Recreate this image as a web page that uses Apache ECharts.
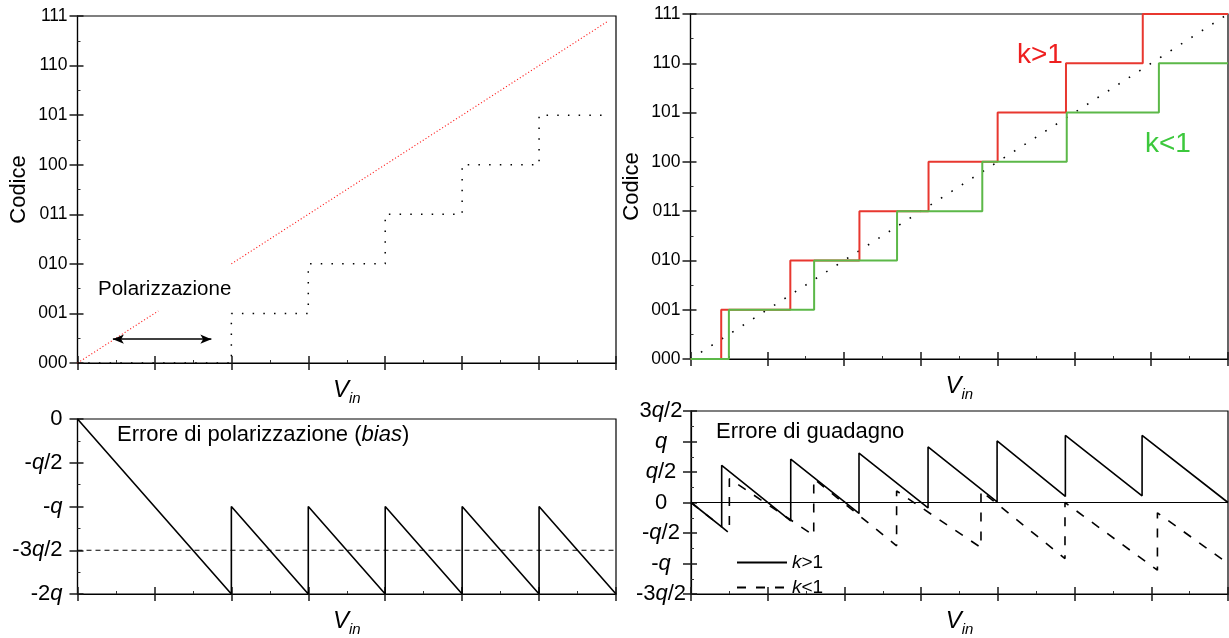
<!DOCTYPE html>
<html><head><meta charset="utf-8">
<script src="https://cdn.jsdelivr.net/npm/echarts@6/dist/echarts.min.js"></script>
<style>html,body{margin:0;padding:0;background:#fff}#c{width:1229px;height:638px}</style>
</head><body><div id="c"></div>
<script>
// ---------------- data ----------------
const codeLabels = ['000','001','010','011','100','101','110','111'];
// top-left: bias (offset) error
const biasIdealX    = [0, 1.05, null, 2, 6.9];
const biasIdealCode = [0, 1.05, null, 2, 6.9];
const biasStepX     = [0, 2, 3, 4, 5, 6, 6.9];
const biasStepCode  = [0, 1, 2, 3, 4, 5, 5];
const biasArrowX    = [0.46, 1.74];
const biasArrowCode = [0.48, 0.48];
// top-right: gain error
const gainIdealX    = [0, 7];
const gainIdealCode = [0, 7];
const kGtStepX = [0, 0.40, 1.30, 2.20, 3.10, 4.00, 4.89, 5.89, 7];
const kGtCode  = [0, 1, 2, 3, 4, 5, 6, 7, 7];
const kLtStepX = [0, 0.50, 1.61, 2.69, 3.80, 4.90, 6.10, 7];
const kLtCode  = [0, 1, 2, 3, 4, 5, 6, 6];
// bottom-left: bias error (units of q)
const biasErrTickVals   = [0, -0.5, -1, -1.5, -2];
const biasErrTickLabels = ['0', '-q/2', '-q', '-3q/2', '-2q'];
const biasErrX = [0, 2, 2, 3, 3, 4, 4, 5, 5, 6, 6, 7];
const biasErrQ = [0, -2, -1, -2, -1, -2, -1, -2, -1, -2, -1, -2];
const biasRefX = [0, 7];
const biasRefQ = [-1.5, -1.5];
// bottom-right: gain error (units of q)
const gainErrTickVals   = [1.5, 1, 0.5, 0, -0.5, -1, -1.5];
const gainErrTickLabels = ['3q/2', 'q', 'q/2', '0', '-q/2', '-q', '-3q/2'];
const zeroX = [0, 7];
const zeroQ = [0, 0];
const kGtErrX = [0, 0.40, 0.40, 1.30, 1.30, 2.19, 2.19, 3.09, 3.09, 3.99, 3.99, 4.88, 4.88, 5.88, 5.88, 7];
const kGtErrQ = [0, -0.40, 0.61, -0.30, 0.71, -0.18, 0.81, -0.09, 0.91, 0.01, 1.01, 0.10, 1.10, 0.11, 1.10, 0];
const kLtErrX = [0, 0.50, 0.50, 1.60, 1.60, 2.68, 2.68, 3.78, 3.78, 4.875, 4.875, 6.08, 6.08, 7];
const kLtErrQ = [0, -0.50, 0.39, -0.54, 0.39, -0.71, 0.19, -0.74, 0.19, -0.92, 0.00, -1.11, -0.17, -1.00];

// ---------------- helpers ----------------
const FF = '"Liberation Sans", Arial, sans-serif';
function pairs(xs, ys) { return xs.map((x, i) => (x === null || ys[i] === null) ? ['-', '-'] : [x, ys[i]]); }
function qRich(s) { return s.replace(/q/g, '{i|q}'); }
function lookup(vals, labels, v) {
  const i = vals.findIndex(a => Math.abs(a - v) < 1e-6);
  return i < 0 ? '' : labels[i];
}
const tickLine = { color: '#1a1a1a', width: 1.5 };
const vinName = '{v|V}{s|in}';
const vinRich = {
  v: { fontSize: 24, fontStyle: 'italic', fontFamily: FF, color: '#000', lineHeight: 26, verticalAlign: 'top' },
  s: { fontSize: 15, fontStyle: 'italic', fontFamily: FF, color: '#000', lineHeight: 15, padding: [13, 0, 0, 0], verticalAlign: 'top' }
};

function xAxes(g) {
  const base = { type: 'value', gridIndex: g, min: 0, max: 7, interval: 1, position: 'bottom',
    splitLine: { show: false }, axisLabel: { show: false } };
  return [
    Object.assign({}, base, {
      axisLine: { onZero: false, lineStyle: { color: '#000', width: 1.2 } },
      axisTick: { inside: false, length: 7, lineStyle: tickLine },
      name: vinName, nameLocation: 'middle', nameGap: 15,
      nameTextStyle: { rich: vinRich }
    }),
    Object.assign({}, base, {
      axisLine: { onZero: false, show: false },
      axisTick: { inside: true, length: 7, lineStyle: tickLine },
      minorTick: { show: true, splitNumber: 2, length: 3, lineStyle: { color: '#333', width: 1 } }
    })
  ];
}
function yAxes(g, min, max, step, fmt, fontSize, name, labelOpts) {
  const base = { type: 'value', gridIndex: g, min: min, max: max, interval: step, position: 'left',
    splitLine: { show: false } };
  return [
    Object.assign({}, base, {
      axisLine: { onZero: false, lineStyle: { color: '#000', width: 1.2 } },
      axisTick: { inside: false, length: 8, lineStyle: tickLine },
      axisLabel: Object.assign({ formatter: fmt, fontSize: fontSize, fontFamily: FF, color: '#000', margin: 10,
        rich: { i: { fontStyle: 'italic', fontSize: fontSize, fontFamily: FF, color: '#000' } } }, labelOpts || {}),
      name: name || '', nameLocation: 'middle', nameRotate: 90, nameGap: 48,
      nameTextStyle: { fontSize: 22, fontFamily: FF, color: '#000' }
    }),
    Object.assign({}, base, {
      axisLine: { onZero: false, show: false },
      axisTick: { inside: true, length: 6, lineStyle: tickLine },
      axisLabel: { show: false },
      minorTick: { show: true, splitNumber: 2, length: 3, lineStyle: { color: '#333', width: 1 } }
    })
  ];
}
const codeFmt = v => codeLabels[Math.round(v)] || '';
const biasErrFmt = v => qRich(lookup(biasErrTickVals, biasErrTickLabels, v));
const gainErrFmt = v => qRich(lookup(gainErrTickVals, gainErrTickLabels, v));

const gridBase = { show: true, borderColor: '#000', borderWidth: 1.2, backgroundColor: 'transparent', containLabel: false };

const option = {
  animation: false,
  backgroundColor: '#fff',
  grid: [
    Object.assign({ left: 77.5, top: 16, width: 538.5, height: 347 }, gridBase),
    Object.assign({ left: 690.5, top: 14, width: 537.5, height: 345 }, gridBase),
    Object.assign({ left: 77.5, top: 419, width: 538.5, height: 175 }, gridBase),
    Object.assign({ left: 691, top: 411, width: 537, height: 192 }, gridBase)
  ],
  xAxis: [].concat(xAxes(0), xAxes(1), xAxes(2), xAxes(3)),
  yAxis: [].concat(
    yAxes(0, 0, 7, 1, codeFmt, 17.5, 'Codice'),
    yAxes(1, 0, 7, 1, codeFmt, 17.5, 'Codice'),
    yAxes(2, -2, 0, 0.5, biasErrFmt, 22, '', { margin: 15 }),
    yAxes(3, -1.5, 1.5, 0.5, gainErrFmt, 22, '', { align: 'center', margin: 30 })
  ),
  legend: {
    data: ['k>1', 'k<1'], orient: 'vertical', left: 731, top: 548,
    itemWidth: 50, itemHeight: 14, itemGap: 6,
    itemStyle: { opacity: 0 },
    formatter: n => n.replace('k', '{i|k}'),
    textStyle: { fontSize: 19, fontFamily: FF, color: '#000',
      rich: { i: { fontStyle: 'italic', fontSize: 19, fontFamily: FF, color: '#000' } } }
  },
  graphic: [
    { type: 'text', left: 98, top: 279, z: 100, style: { text: 'Polarizzazione', fontSize: 20.5, fontFamily: FF, fill: '#000' } },
    { type: 'text', left: 117, top: 424, z: 100, style: { text: 'Errore di polarizzazione ({i|bias})', fontSize: 22, fontFamily: FF, fill: '#000',
      rich: { i: { fontStyle: 'italic', fontSize: 22, fontFamily: FF, fill: '#000' } } } },
    { type: 'text', left: 716, top: 421, z: 100, style: { text: 'Errore di guadagno', fontSize: 22, fontFamily: FF, fill: '#000' } },
    { type: 'text', left: 1017, top: 41, z: 100, style: { text: 'k>1', fontSize: 28, fontFamily: FF, fill: '#ee2020' } },
    { type: 'text', left: 1145, top: 130, z: 100, style: { text: 'k<1', fontSize: 28, fontFamily: FF, fill: '#3cc83c' } }
  ],
  series: [
    // top-left
    { type: 'line', xAxisIndex: 0, yAxisIndex: 0, data: pairs(biasIdealX, biasIdealCode), symbol: 'none', silent: true, clip: false,
      lineStyle: { color: '#ff1a1a', width: 1.1, type: [1.1, 2.2] } },
    { type: 'line', xAxisIndex: 0, yAxisIndex: 0, data: pairs(biasStepX, biasStepCode), step: 'end', symbol: 'none', silent: true, clip: false,
      lineStyle: { color: '#000', width: 1.5, type: [1.5, 9.2] },
      markLine: { silent: true, symbol: ['arrow', 'arrow'], symbolSize: [7, 11], label: { show: false },
        lineStyle: { color: '#000', width: 1.5, type: 'solid' },
        data: [[{ coord: [biasArrowX[0], biasArrowCode[0]] }, { coord: [biasArrowX[1], biasArrowCode[1]] }]] } },
    // top-right
    { type: 'line', xAxisIndex: 2, yAxisIndex: 2, data: pairs(gainIdealX, gainIdealCode), symbol: 'none', silent: true, clip: false,
      lineStyle: { color: '#000', width: 1.6, type: [1.6, 10.8] } },
    { type: 'line', xAxisIndex: 2, yAxisIndex: 2, data: pairs(kGtStepX, kGtCode), step: 'end', symbol: 'none', silent: true, clip: false,
      lineStyle: { color: '#e8372f', width: 2 } },
    { type: 'line', xAxisIndex: 2, yAxisIndex: 2, data: pairs(kLtStepX, kLtCode), step: 'end', symbol: 'none', silent: true, clip: false,
      lineStyle: { color: '#5cb848', width: 2 } },
    // bottom-left
    { type: 'line', xAxisIndex: 4, yAxisIndex: 4, data: pairs(biasRefX, biasRefQ), symbol: 'none', silent: true,
      lineStyle: { color: '#000', width: 1, type: [5, 4] } },
    { type: 'line', xAxisIndex: 4, yAxisIndex: 4, data: pairs(biasErrX, biasErrQ), symbol: 'none', silent: true, clip: false,
      lineStyle: { color: '#000', width: 1.6 } },
    // bottom-right
    { type: 'line', xAxisIndex: 6, yAxisIndex: 6, data: pairs(zeroX, zeroQ), symbol: 'none', silent: true,
      lineStyle: { color: '#000', width: 1.2 } },
    { name: 'k<1', type: 'line', xAxisIndex: 6, yAxisIndex: 6, data: pairs(kLtErrX, kLtErrQ), symbol: 'none', silent: true,
      itemStyle: { color: '#000' }, lineStyle: { color: '#000', width: 1.6, type: [9, 10] } },
    { name: 'k>1', type: 'line', xAxisIndex: 6, yAxisIndex: 6, data: pairs(kGtErrX, kGtErrQ), symbol: 'none', silent: true,
      itemStyle: { color: '#000' }, lineStyle: { color: '#000', width: 1.6 } }
  ]
};
const chart = echarts.init(document.getElementById('c'), null, { renderer: 'canvas' });
chart.setOption(option);
</script></body></html>
